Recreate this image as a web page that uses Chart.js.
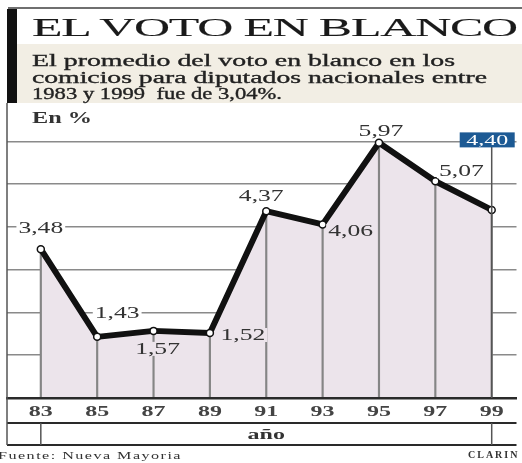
<!DOCTYPE html>
<html>
<head>
<meta charset="utf-8">
<script src="https://cdn.jsdelivr.net/npm/chart.js@4"></script>
<style>
  body { margin: 0; background: #fff; }
  #wrap { position: relative; width: 522px; height: 463px; overflow: hidden; background: #fff; font-family: "Liberation Serif", "DejaVu Serif", serif; }
  #chart { position: absolute; left: 0; top: 0; }
  .abs { position: absolute; white-space: nowrap; line-height: 1; transform-origin: 0 50%; }
  .sub { left: 32px; font-size: 17px; color: #222; -webkit-text-stroke: 0.35px #222; }
  #rule { position: absolute; left: 8px; top: 7px; width: 514px; height: 2px; background: #6f6f6f; }
  #bar { position: absolute; left: 7px; top: 9px; width: 10px; height: 94px; background: #111; }
  #band { position: absolute; left: 17px; top: 44px; width: 505px; height: 59px; background: #f2eee4; }
</style>
</head>
<body>
<div id="wrap">
  <div id="rule"></div>
  <div id="bar"></div>
  <div id="band"></div>
  <canvas id="chart" width="522" height="463"></canvas>
  <div class="abs fit" data-w="485" style="left:32px;top:15px;font-size:25px;letter-spacing:-0.6px;color:#1a1a1a;-webkit-text-stroke:0.1px #1a1a1a">EL VOTO EN BLANCO</div>
  <div class="abs fit sub" data-w="423" style="top:52px">El promedio del voto en blanco en los</div>
  <div class="abs fit sub" data-w="455" style="top:68.5px">comicios para diputados nacionales entre</div>
  <div class="abs fit sub" data-w="250" style="top:85px">1983 y 1999&nbsp; fue de 3,04%.</div>
  <div class="abs fit" data-w="60" style="left:32px;top:110px;font-size:16px;font-weight:bold;color:#333">En %</div>
  <div class="abs fit" data-w="184" style="left:-2px;top:450px;font-size:11px;letter-spacing:1px;color:#333">Fuente: Nueva Mayoria</div>
  <div class="abs" style="left:468px;top:450px;font-size:10px;font-weight:bold;letter-spacing:2px;color:#333">CLARIN</div>
</div>

<script>

// data
var years = [1983, 1985, 1987, 1989, 1991, 1993, 1995, 1997, 1999];
var tickLabels = ["83", "85", "87", "89", "91", "93", "95", "97", "99"];
var blankVote = [3.48, 1.43, 1.57, 1.52, 4.37, 4.06, 5.97, 5.07, 4.40];
var axisTitle = "año";

// where each value label sits relative to its point (px) and what is behind it
var labelOffsets = [[0, -21], [20, -24], [4, 18], [33, 2], [-5, -15], [28, 6.5], [2, -12], [26, -10], [-4.5, -70]];
var labelBacks = ["white", "white", "fill", "fill", "white", "fill", "white", "white", "box"];

var FILL = "#ece4eb";
var SX = 1.6;

function fitText() {
  var els = document.querySelectorAll(".fit");
  for (var i = 0; i < els.length; i++) {
    var el = els[i];
    var w = el.getBoundingClientRect().width;
    el.style.transform = "scaleX(" + (Number(el.dataset.w) / w) + ")";
  }
}

function stretchText(ctx, text, x, y, font, color, back) {
  ctx.save();
  ctx.font = font;
  var w = ctx.measureText(text).width * SX;
  if (back) {
    ctx.fillStyle = back;
    ctx.fillRect(x - w / 2 - 2, y - 7, w + 4, 14);
  }
  ctx.translate(x, y);
  ctx.scale(SX, 1);
  ctx.fillStyle = color;
  ctx.textAlign = "center";
  ctx.textBaseline = "middle";
  ctx.fillText(text, 0, 1);
  ctx.restore();
}

function seg(ctx, x1, y1, x2, y2) {
  ctx.beginPath();
  ctx.moveTo(x1, y1);
  ctx.lineTo(x2, y2);
  ctx.stroke();
}

var framePlugin = {
  id: "frame",
  afterDraw: function(chart) {
    var ctx = chart.ctx;
    var a = chart.chartArea;
    var xs = chart.scales.x;
    var ys = chart.scales.y;
    var x0 = xs.getPixelForValue(years[0]);
    var x1 = xs.getPixelForValue(years[years.length - 1]);
    var rowY = a.bottom + 25;
    var endY = a.bottom + 47;
    var last = years.length - 1;
    var boxY = ys.getPixelForValue(blankVote[last]) + labelOffsets[last][1];

    ctx.save();
    ctx.strokeStyle = "#2a2a2a";
    ctx.lineWidth = 2;
    seg(ctx, a.left, rowY, a.right, rowY);
    seg(ctx, a.left, endY, a.right, endY);
    ctx.strokeStyle = "#555";
    ctx.lineWidth = 1.5;
    seg(ctx, a.left, a.top, a.left, endY);
    seg(ctx, x0, rowY, x0, endY);
    seg(ctx, x1, rowY, x1, endY);
    seg(ctx, x1, boxY, x1, a.bottom);
    ctx.restore();

    // tick labels and axis title
    for (var i = 0; i < years.length; i++) {
      stretchText(ctx, tickLabels[i], xs.getPixelForValue(years[i]), a.bottom + 13, "bold 15px 'Liberation Serif'", "#444");
    }
    stretchText(ctx, axisTitle, (x0 + x1) / 2, a.bottom + 36, "bold 15px 'Liberation Serif'", "#333");

    // value labels
    for (var j = 0; j < blankVote.length; j++) {
      var px = xs.getPixelForValue(years[j]) + labelOffsets[j][0];
      var py = ys.getPixelForValue(blankVote[j]) + labelOffsets[j][1];
      var txt = blankVote[j].toFixed(2).replace(".", ",");
      if (labelBacks[j] == "box") {
        ctx.fillStyle = "#1d5a94";
        ctx.fillRect(px - 27.5, py - 7.5, 55, 15);
        stretchText(ctx, txt, px, py, "15px 'Liberation Serif'", "#fff");
      } else {
        var back = labelBacks[j] == "fill" ? FILL : "#fff";
        stretchText(ctx, txt, px, py, "16px 'Liberation Serif'", "#333", back);
      }
    }
  }
};

function printChart() {

  var points = [];
  for (var i = 0; i < years.length; i++) {
    points.push({ x: years[i], y: blankVote[i] });
  }

  var ctx = document.getElementById("chart").getContext("2d");
  var chart = new Chart(ctx, {
    type: "line",
    data: {
      datasets: [{
        type: "line",
        data: points,
        borderColor: "#111",
        borderWidth: 6,
        borderJoinStyle: "round",
        backgroundColor: FILL,
        fill: "origin",
        tension: 0,
        pointRadius: 3.5,
        pointBackgroundColor: "#fff",
        pointBorderColor: "#111",
        pointBorderWidth: 1.5,
        order: 1
      }, {
        type: "bar",
        data: points,
        backgroundColor: "#858585",
        barThickness: 1.5,
        order: 2
      }]
    },
    options: {
      responsive: false,
      animation: false,
      devicePixelRatio: 1,
      layout: { padding: { top: 103, left: 7, right: 0, bottom: 18 } },
      plugins: {
        legend: { display: false },
        tooltip: { enabled: false },
        filler: { drawTime: "beforeDatasetsDraw" }
      },
      scales: {
        x: {
          type: "linear",
          min: 1981.8,
          max: 1999.88,
          offset: false,
          grid: { display: false },
          border: { display: true, color: "#2a2a2a", width: 2.5, z: 1 },
          ticks: { display: false },
          afterBuildTicks: function(s) {
            s.ticks = years.map(function(v) { return { value: v }; });
          },
          afterFit: function(s) { s.height = 47; }
        },
        y: {
          min: 0,
          max: 6.9,
          grid: {
            drawTicks: false,
            lineWidth: 1.5,
            color: function(c) {
              var v = c.tick.value;
              return (v > 0 && Number.isInteger(v)) ? "#8a8a8a" : "rgba(0,0,0,0)";
            }
          },
          border: { display: false },
          ticks: { display: false, stepSize: 1 }
        }
      }
    },
    plugins: [framePlugin]
  });
}

fitText();
printChart();

</script>
</body>
</html>
